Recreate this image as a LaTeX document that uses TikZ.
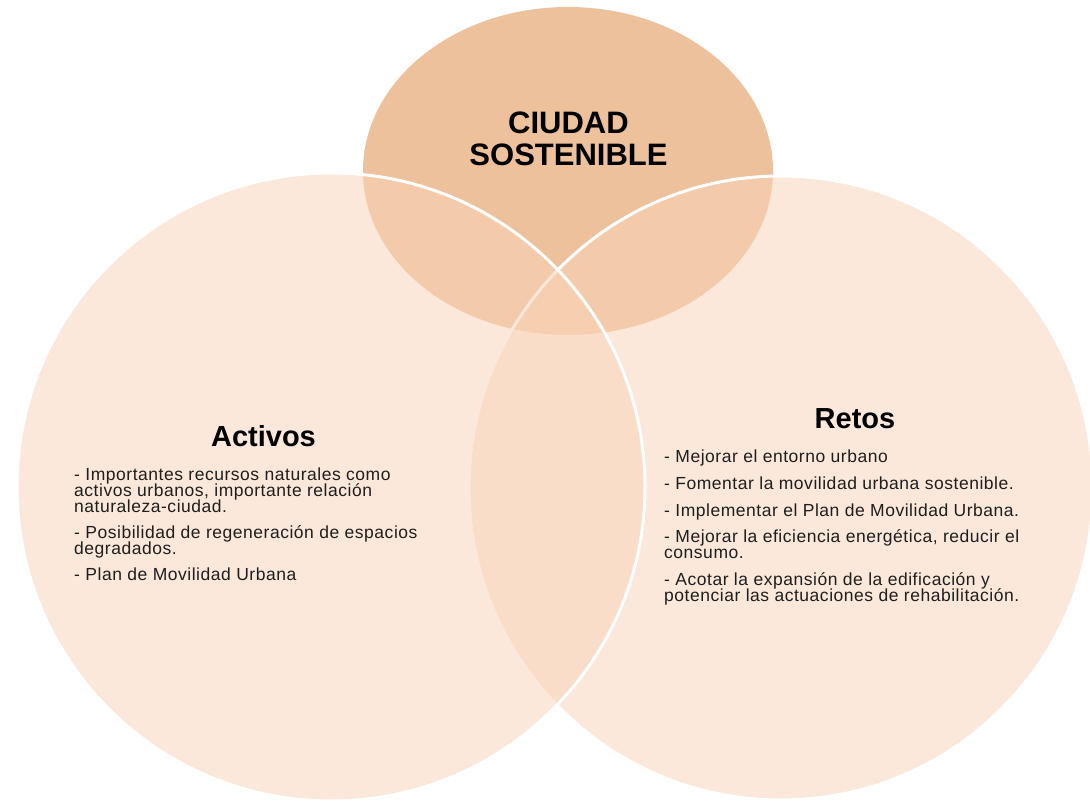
\documentclass[tikz,border=0pt]{standalone}
\usepackage{fontspec}
\setmainfont{Liberation Sans}
\newfontfamily\bodyfont[LetterSpace=3]{Liberation Sans}
\usetikzlibrary{shapes.geometric}
\definecolor{topfill}{RGB}{238,193,157}
\definecolor{circfill}{RGB}{249,211,183}
\definecolor{txt}{RGB}{30,30,30}
\begin{document}
\begin{tikzpicture}[x=1pt,y=-1pt,
  circ/.style={circle, minimum size=#1, inner sep=0pt, fill=circfill, fill opacity=0.5, draw=white, draw opacity=1, line width=3pt},
  topell/.style={ellipse, minimum width=410pt, minimum height=328pt, inner sep=0pt, fill=topfill, draw=none},
  title/.style={font=\bfseries\fontsize{31}{31}\selectfont, inner sep=0pt, anchor=base, text=black},
  head/.style={font=\bfseries\fontsize{29}{29}\selectfont, inner sep=0pt, anchor=base, text=black},
  body/.style={font=\bodyfont\fontsize{17.5}{17.5}\selectfont, inner sep=0pt, anchor=base west, text=txt}]
\useasboundingbox (0,0) rectangle (1090,802);
\fill[white] (0,0) rectangle (1090,802);
% shapes
\node[topell] (top) at (568,171) {};
\node[circ=624pt] (right) at (781,488) {};
\node[circ=628pt] (left) at (331,487) {};
% title
\node[title] (t1) at (568.5,134) {CIUDAD};
\node[title] (t2) at (568.5,166) {SOSTENIBLE};
% Activos
\node[head] (ha) at (263.5,446) {Activos};
\node[body] (a1) at (74,480) {- Importantes recursos naturales como};
\node[body] (a2) at (74,496) {activos urbanos, importante relación};
\node[body] (a3) at (74,512) {naturaleza-ciudad.};
\node[body] (a4) at (74,538) {- Posibilidad de regeneración de espacios};
\node[body] (a5) at (74,554) {degradados.};
\node[body] (a6) at (74,580) {- Plan de Movilidad Urbana};
% Retos
\node[head] (hr) at (855,428) {Retos};
\node[body] (r1) at (664,462) {- Mejorar el entorno urbano};
\node[body] (r2) at (664,489) {- Fomentar la movilidad urbana sostenible.};
\node[body] (r3) at (664,516) {- Implementar el Plan de Movilidad Urbana.};
\node[body] (r4) at (664,542) {- Mejorar la eficiencia energética, reducir el};
\node[body] (r5) at (664,558) {consumo.};
\node[body] (r6) at (664,585) {- Acotar la expansión de la edificación y};
\node[body] (r7) at (664,601) {potenciar las actuaciones de rehabilitación.};
\end{tikzpicture}
\end{document}
